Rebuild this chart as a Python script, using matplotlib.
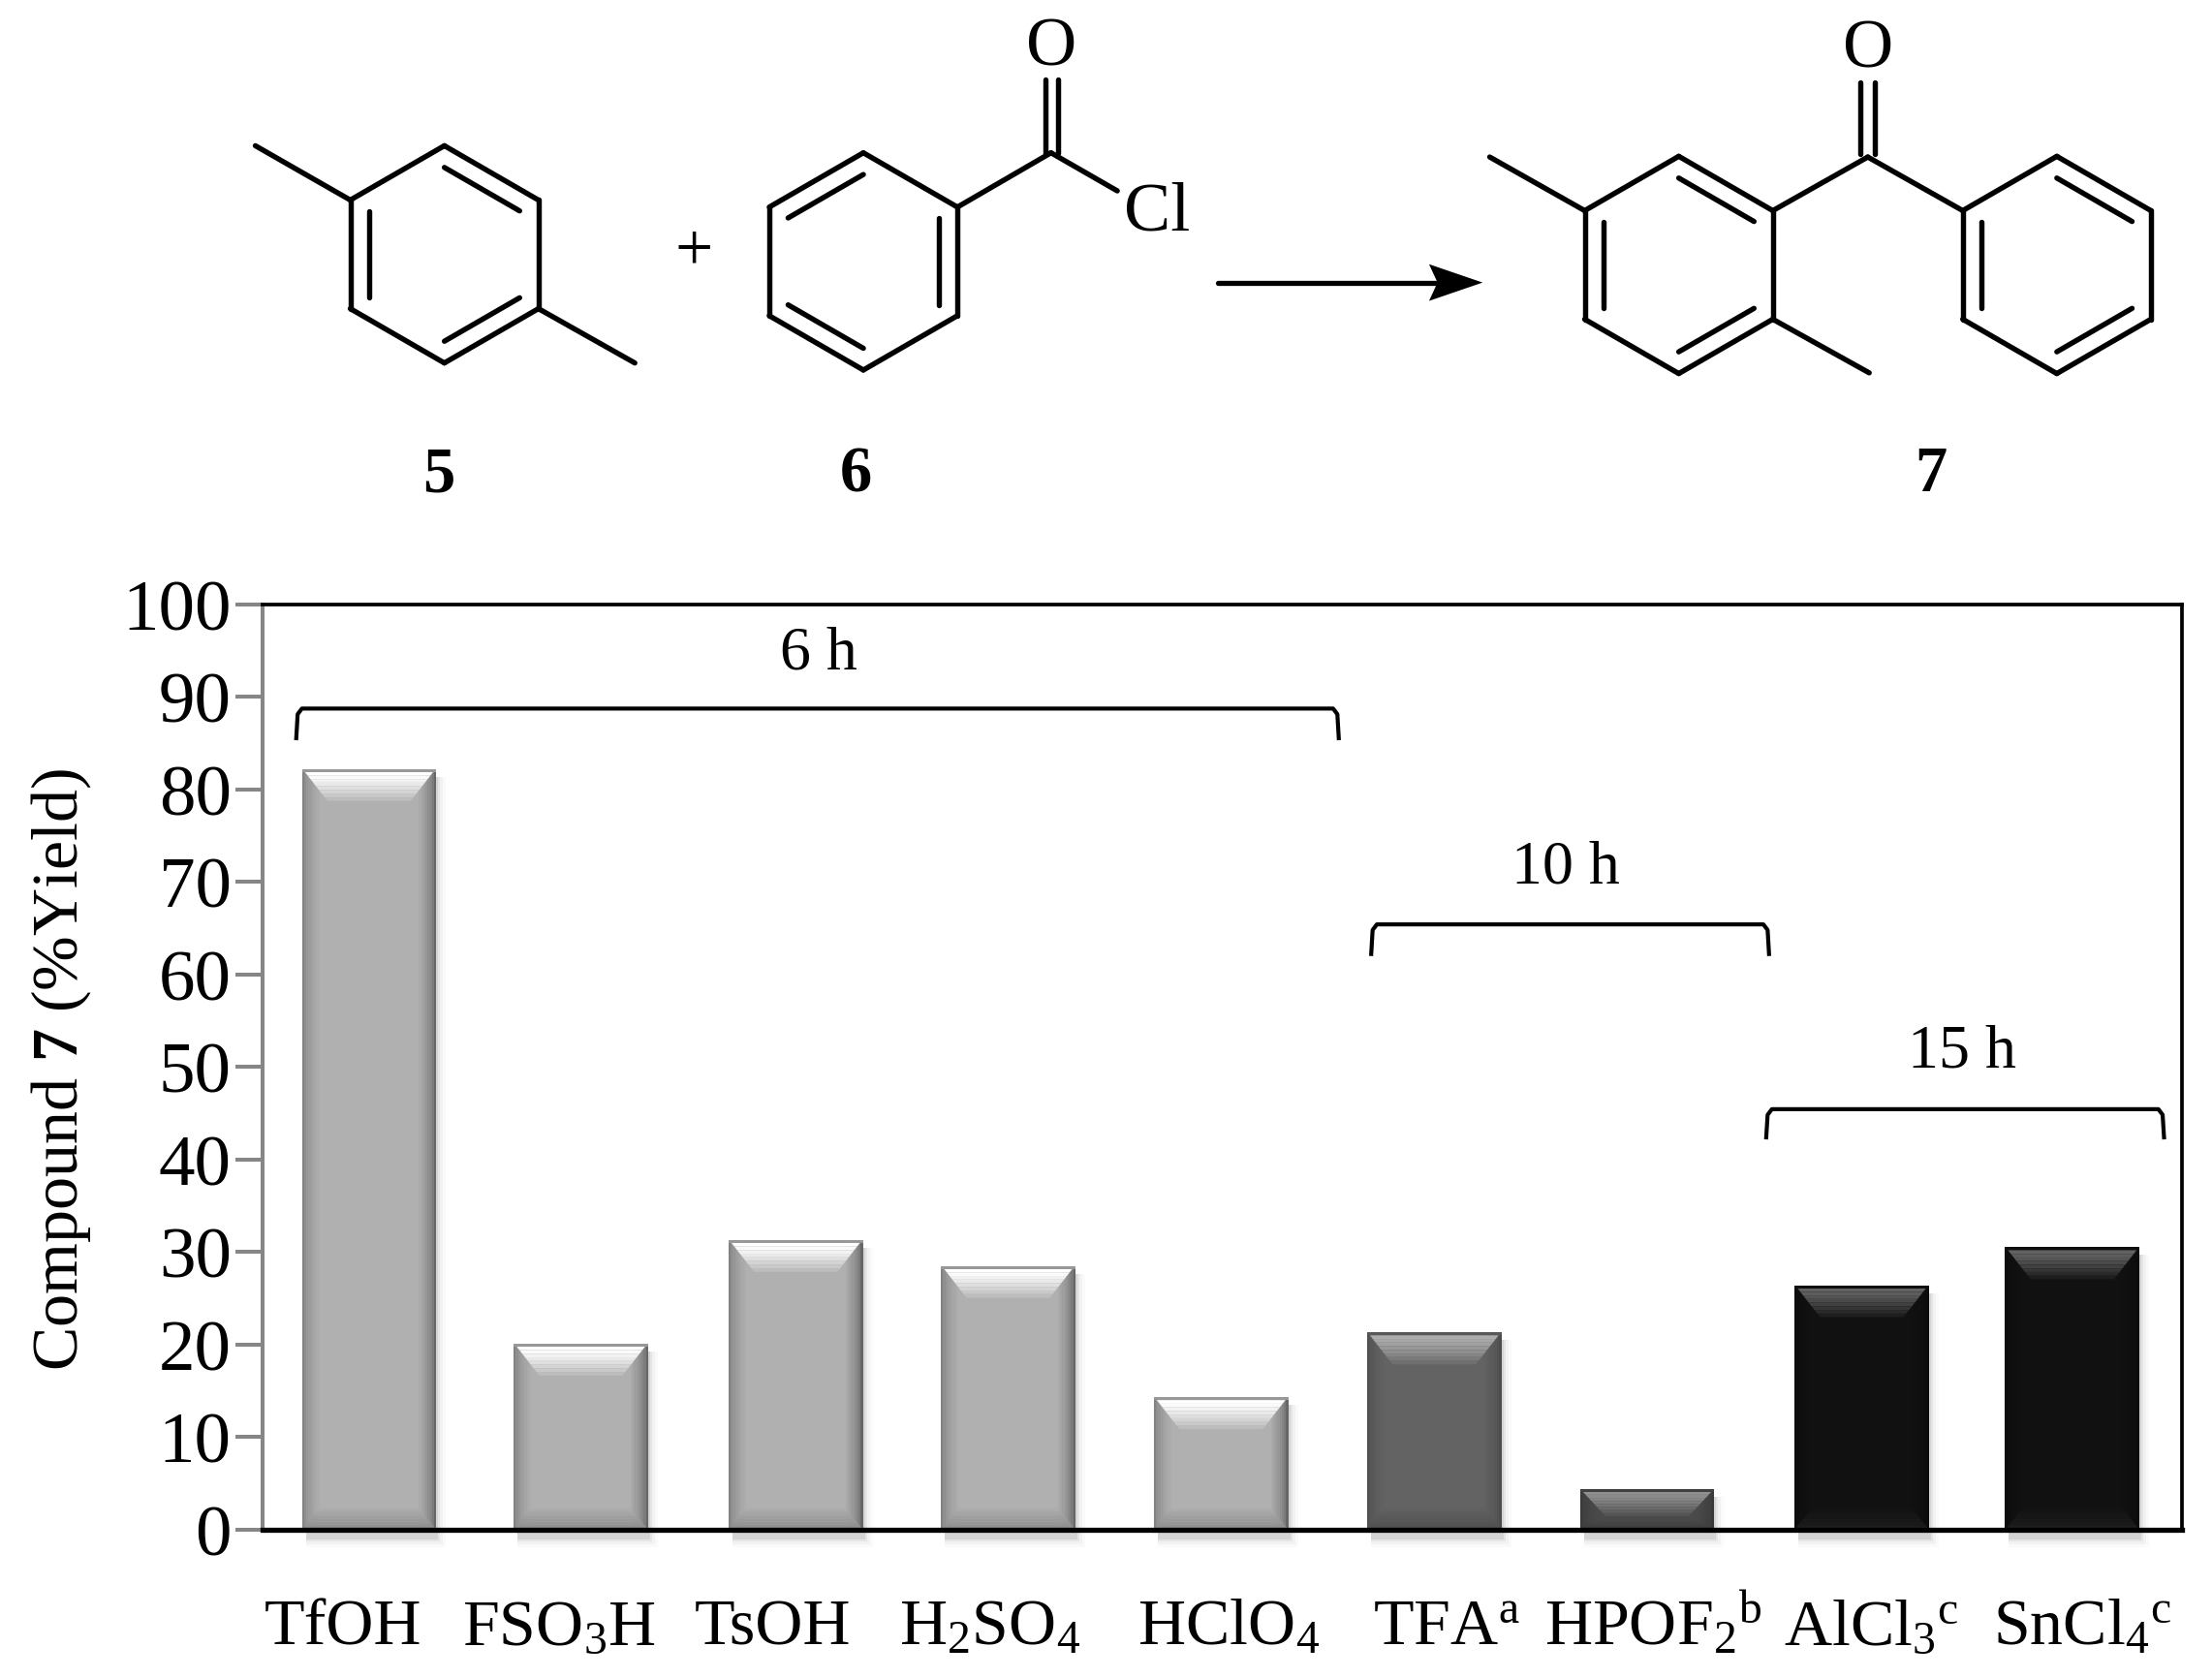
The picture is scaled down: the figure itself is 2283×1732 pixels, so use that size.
import numpy as np
import matplotlib
matplotlib.use("Agg")
import matplotlib.pyplot as plt
from matplotlib.colors import to_rgb

plt.rcParams['font.family'] = ['Liberation Serif', 'DejaVu Serif']
plt.rcParams['mathtext.fontset'] = 'custom'
plt.rcParams['mathtext.rm'] = 'Liberation Serif'
plt.rcParams['mathtext.bf'] = 'Liberation Serif:bold'
plt.rcParams['mathtext.it'] = 'Liberation Serif:italic'

# ---- data ----
catalysts = ['TfOH', r'FSO$_{\mathrm{3}}$H', 'TsOH', r'H$_{\mathrm{2}}$SO$_{\mathrm{4}}$',
             r'HClO$_{\mathrm{4}}$', r'TFA$^{\mathrm{a}}$', r'HPOF$_{\mathrm{2}}$$^{\mathrm{b}}$',
             r'AlCl$_{\mathrm{3}}$$^{\mathrm{c}}$', r'SnCl$_{\mathrm{4}}$$^{\mathrm{c}}$']
yields = [82.2, 20.1, 31.3, 28.5, 14.3, 21.3, 4.4, 26.4, 30.5]
label_shift = [-0.12, -0.11, -0.11, -0.09, 0.03, 0.05, 0.02, 0.04, 0.03]
bar_shift = [0, -0.007, 0, -0.004, -0.006, -0.007, -0.009, -0.003, -0.016]
yticks = list(range(0, 101, 10))
time_groups = ['6 h', '10 h', '15 h']

base_cols = ['#b0b0b0'] * 5 + ['#636363', '#4a4a4a', '#111111', '#111111']
high_cols = ['#ffffff'] * 5 + ['#acacac', '#909090', '#626262', '#626262']
edgeL_cols = ['#828282'] * 5 + ['#505050', '#3a3a3a', '#0c0c0c', '#0c0c0c']
edgeR_cols = ['#666666'] * 5 + ['#4c4c4c', '#383838', '#0a0a0a', '#0a0a0a']
rim_cols = ['#989898'] * 5 + ['#585858', '#404040', '#0e0e0e', '#0e0e0e']

W, H = 2283, 1733
S = W / 1568
fig = plt.figure(figsize=(W / 100, H / 100), dpi=100, facecolor='white')
L, R, T, B = 186 * S, 1547 * S, 429 * S, 1085 * S
ax = fig.add_axes([L / W, 1 - B / H, (R - L) / W, (B - T) / H])
ax.set_xlim(-0.5, 8.5)
ax.set_ylim(0, 100)

px = 9.0 / (R - L)      # data x per pixel
py = 100.0 / (B - T)    # data y per pixel
bw = 0.63


def mix(a, b, t):
    a, b = np.array(to_rgb(a)), np.array(to_rgb(b))
    return tuple(a + (b - a) * t)


for i, (v, c, hc, el, er, rc) in enumerate(zip(yields, base_cols, high_cols, edgeL_cols, edgeR_cols, rim_cols)):
    xc = i + bar_shift[i]
    x0, x1 = xc - bw / 2, xc + bw / 2
    # soft shadow
    for k, a in zip([10, 7, 4, 2], [0.02, 0.03, 0.05, 0.07]):
        ax.fill([x0 + 4 * px, x1 + k * px, x1 + k * px, x0 + 4 * px],
                [-k * py - 8 * py, -k * py - 8 * py, v - 8 * py, v - 8 * py],
                color='black', alpha=a, lw=0, zorder=1, clip_on=False)
    ax.bar(xc, v, bw, color=c, lw=0, zorder=2)
    # side bevels
    n = 8
    sw = 18
    for k in range(n):
        t0, t1 = k / n, (k + 1) / n
        ax.fill([x0 + sw * t0 * px, x0 + sw * t1 * px, x0 + sw * t1 * px, x0 + sw * t0 * px],
                [0, 0, v, v], color=mix(el, c, t0 ** 0.6), lw=0, zorder=2.2)
        ax.fill([x1 - sw * t0 * px, x1 - sw * t1 * px, x1 - sw * t1 * px, x1 - sw * t0 * px],
                [0, 0, v, v], color=mix(er, c, t0 ** 0.6), lw=0, zorder=2.2)
    # top bevel
    th = 30
    bevel_h = min(th, v / py * 0.6)
    for k in range(n):
        t0, t1 = k / n, (k + 1) / n
        ya, yb = v - (3 + bevel_h * t0) * py, v - (3 + bevel_h * t1) * py
        ia, ib = (3 + sw * 1.3 * t0) * px, (3 + sw * 1.3 * t1) * px
        ax.fill([x0 + ia, x1 - ia, x1 - ib, x0 + ib], [ya, ya, yb, yb],
                color=mix(hc, c, t0 ** 1.3), lw=0, zorder=2.4)
    # bottom bevel
    bh = min(22, v / py * 0.25)
    for k in range(n):
        t0, t1 = k / n, (k + 1) / n
        ya, yb = bh * t0 * py, bh * t1 * py
        ia, ib = sw * t0 * px, sw * t1 * px
        ax.fill([x0 + ia, x1 - ia, x1 - ib, x0 + ib], [ya, ya, yb, yb],
                color=mix(mix(c, '#505050' if c == '#111111' else 'black', 0.2), c, t0), lw=0, zorder=2.4)
    # rim
    ax.fill([x0, x1, x1, x0], [v, v, v - 3 * py, v - 3 * py], color=rc, lw=0, zorder=2.6)

ax.set_yticks(yticks)
ax.set_xticks([i + s for i, s in enumerate(label_shift)])
ax.set_xticklabels(catalysts)
ax.tick_params(axis='x', length=0, pad=85, labelsize=49)
for lab in ax.get_xticklabels():
    lab.set_va('baseline')
ax.tick_params(axis='y', length=20, width=2.9, color='#868686', pad=3, labelsize=54)
for name, sp in ax.spines.items():
    sp.set_zorder(5)
ax.spines['left'].set_color('#868686')
ax.spines['left'].set_linewidth(2.9)
ax.spines['top'].set_linewidth(2.7)
ax.spines['right'].set_linewidth(2.7)
ax.spines['bottom'].set_linewidth(3.8)
ax.set_ylabel(r'Compound $\mathbf{7}$ (%Yield)', fontsize=49)
ax.yaxis.set_label_coords((66 - 186) / (1547 - 186), 0.498)

# ---- overlay in pixel space for the reaction scheme and brackets ----
ov = fig.add_axes([0, 0, 1, 1], zorder=10)
ov.set_xlim(0, W)
ov.set_ylim(H, 0)
ov.axis('off')
ov.patch.set_alpha(0)
LW = 3.9


def seg(p, q, lw=LW, col='black'):
    ov.plot([p[0] * S, q[0] * S], [(p[1] + 1) * S, (q[1] + 1) * S], color=col, lw=lw, solid_capstyle='round')


def ring(cx, cy, doubles):
    r = 77
    ang = np.radians([90, 30, -30, -90, -150, 150])
    pts = [(cx + r * np.cos(a), cy - r * np.sin(a)) for a in ang]
    for k in range(6):
        seg(pts[k], pts[(k + 1) % 6])
    for k in doubles:
        p, q = pts[k], pts[(k + 1) % 6]
        f = 0.8
        seg((cx + (p[0] - cx) * f, cy + (p[1] - cy) * f), (cx + (q[0] - cx) * f, cy + (q[1] - cy) * f))
    return pts


# 5
p5 = ring(315, 180, [0, 2, 4])
seg(p5[5], (181, 103))
seg(p5[2], (450, 257))
# 6
p6 = ring(612, 185, [1, 3, 5])
seg(p6[1], (745, 108))
seg((741, 108), (741, 56))
seg((750, 108), (750, 56))
seg((745, 108), (792, 135))
# 7
p7 = ring(1190, 187.5, [0, 2, 4])
p7r = ring(1458, 187.5, [0, 2, 4])
seg(p7[5], (1056, 111))
seg(p7[2], (1325, 264))
seg(p7[1], (1324, 111))
seg((1324, 111), p7r[5])
seg((1319, 109), (1319, 58))
seg((1329, 109), (1329, 58))
# arrow
seg((863, 200), (1020, 200), lw=3.8)
ov.fill(np.array([1013, 1051, 1013, 1019]) * S, np.array([188, 201, 214, 201]) * S, color='black', lw=0)

atom_fs = 52
ov.text(745 * S, 34 * S, 'O', fontsize=atom_fs, ha='center', va='center')
ov.text(820 * S, 151 * S, 'Cl', fontsize=atom_fs, ha='center', va='center')
ov.text(1324 * S, 36 * S, 'O', fontsize=atom_fs, ha='center', va='center')
ov.text(492 * S, 180 * S, '+', fontsize=50, ha='center', va='center')
for lab, x in zip(['5', '6', '7'], [311, 607, 1369]):
    ov.text(x * S, 337 * S, lab, fontsize=48, fontweight='bold', ha='center', va='center')


def bracket(x0, x1, ytop, ybot):
    xs = np.array([x0, x0 + 1, x0 + 4, x1 - 4, x1 - 1, x1]) * S
    ys = np.array([ybot, ytop + 4, ytop, ytop, ytop + 4, ybot]) * S
    ov.plot(xs, ys, color='black', lw=3.0, solid_joinstyle='round')


bracket(210, 949, 503, 524)
bracket(972, 1254, 656, 677)
bracket(1252, 1534, 787, 807)
for lab, x, y in zip(time_groups, [580, 1110, 1391], [464, 616, 746]):
    ov.text(x * S, y * S, lab, fontsize=46, ha='center', va='center')

fig.savefig('out.png', dpi=100, facecolor='white')
